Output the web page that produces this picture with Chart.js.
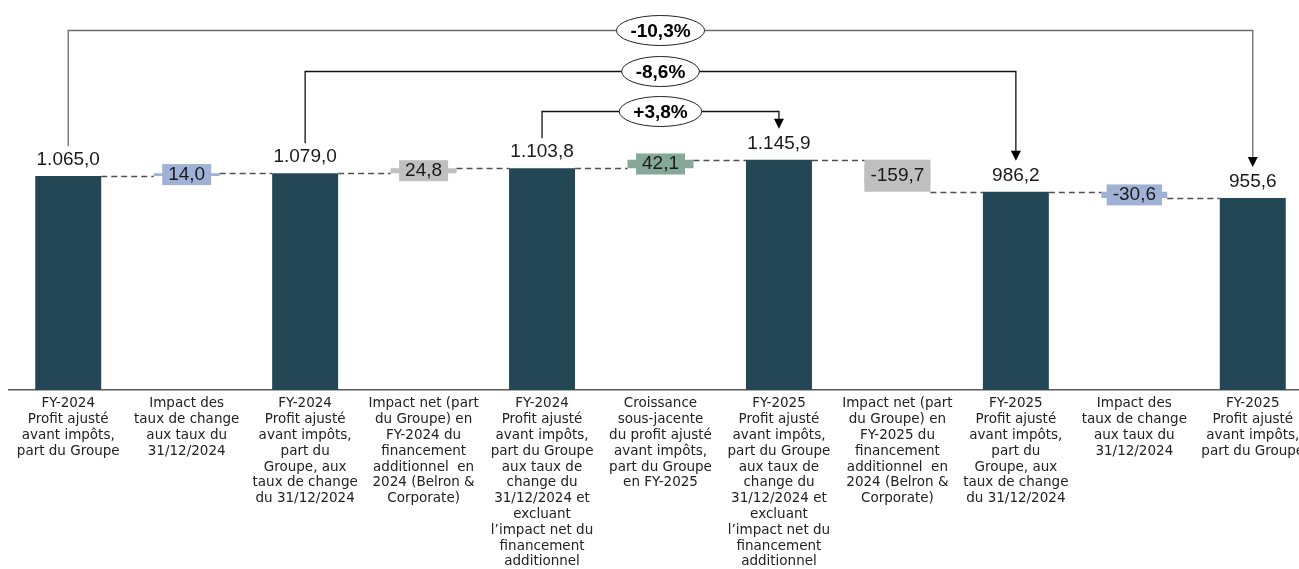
<!DOCTYPE html>
<html>
<head>
<meta charset="utf-8">
<script src="https://cdn.jsdelivr.net/npm/chart.js@4.4.1/dist/chart.umd.min.js"></script>
<style>
  html, body { margin:0; padding:0; background:#fff; overflow:hidden; }
  canvas { display:block; }
</style>
</head>
<body>
<canvas id="wfChart" width="1312" height="569"></canvas>
<script>
// ── Data ───────────────────────────────────────────
const categories = [
  ['FY-2024','Profit ajusté','avant impôts,','part du Groupe'],
  ['Impact des','taux de change','aux taux du','31/12/2024'],
  ['FY-2024','Profit ajusté','avant impôts,','part du','Groupe, aux','taux de change','du 31/12/2024'],
  ['Impact net (part','du Groupe) en','FY-2024 du','financement','additionnel  en','2024 (Belron &','Corporate)'],
  ['FY-2024','Profit ajusté','avant impôts,','part du Groupe','aux taux de','change du','31/12/2024 et','excluant','l’impact net du','financement','additionnel'],
  ['Croissance','sous-jacente','du profit ajusté','avant impôts,','part du Groupe','en FY-2025'],
  ['FY-2025','Profit ajusté','avant impôts,','part du Groupe','aux taux de','change du','31/12/2024 et','excluant','l’impact net du','financement','additionnel'],
  ['Impact net (part','du Groupe) en','FY-2025 du','financement','additionnel  en','2024 (Belron &','Corporate)'],
  ['FY-2025','Profit ajusté','avant impôts,','part du','Groupe, aux','taux de change','du 31/12/2024'],
  ['Impact des','taux de change','aux taux du','31/12/2024'],
  ['FY-2025','Profit ajusté','avant impôts,','part du Groupe']
];
const values  = [1065.0, 14.0, 1079.0, 24.8, 1103.8, 42.1, 1145.9, -159.7, 986.2, -30.6, 955.6];
const isTotal = [true, false, true, false, true, false, true, false, true, false, true];
const barColors = ['#244756','#9fb2d6','#244756','#bfbfbf','#244756','#85a899','#244756','#bfbfbf','#244756','#9fb2d6','#244756'];

const bracketFrom   = [0, 2, 4];
const bracketTo     = [10, 8, 6];
const bracketLabels = ['-10,3%', '-8,6%', '+3,8%'];
const bracketLevels = [1792, 1588, 1389];
const bracketColors = ['#6b6b6b', '#111111', '#111111'];

// floating bars: totals from 0, deltas from previous end
const ranges = [];
const ends = [];
(function(){
  let run = 0;
  values.forEach((v,i)=>{
    if(isTotal[i]){ ranges.push([0, v]); run = v; }
    else { ranges.push([run, run + v]); run = run + v; }
    ends.push(run);
  });
})();

function fmt(v){
  let [a,b] = Math.abs(v).toFixed(1).split('.');
  a = a.replace(/\B(?=(\d{3})+(?!\d))/g, '.');
  return (v < 0 ? '-' : '') + a + ',' + b;
}

const FONT = '"Liberation Sans", Arial, sans-serif';

// ── Waterfall decorations ──────────────────────────
const waterfallPlugin = {
  id:'waterfall',
  afterDatasetsDraw(chart){
    const ctx = chart.ctx;
    const meta = chart.getDatasetMeta(0);
    const y = chart.scales.y;
    ctx.save();

    // dashed connectors
    ctx.setLineDash([6,4]);
    ctx.strokeStyle = '#505050';
    ctx.lineWidth = 1.3;
    for(let i=0;i<meta.data.length-1;i++){
      const a = meta.data[i], b = meta.data[i+1];
      const yy = Math.round(y.getPixelForValue(ends[i])) + 0.5;
      ctx.beginPath();
      ctx.moveTo(a.x + a.width/2, yy);
      ctx.lineTo(b.x - b.width/2, yy);
      ctx.stroke();
    }
    ctx.setLineDash([]);

    // value labels
    ctx.font = '19px ' + FONT;
    ctx.textAlign = 'center';
    ctx.textBaseline = 'middle';
    meta.data.forEach((el,i)=>{
      const txt = fmt(values[i]);
      if(isTotal[i]){
        ctx.fillStyle = '#1a1a1a';
        ctx.fillText(txt, el.x, el.y - 16);
      } else {
        const mid = (el.y + el.base)/2;
        const w = ctx.measureText(txt).width + 12;
        ctx.fillStyle = barColors[i];
        ctx.fillRect(el.x - w/2, mid - 10.5, w, 21);
        ctx.fillStyle = '#1a1a1a';
        ctx.fillText(txt, el.x, mid);
      }
    });

    // growth brackets
    bracketLabels.forEach((label,k)=>{
      const a = meta.data[bracketFrom[k]], b = meta.data[bracketTo[k]];
      const yl = Math.round(y.getPixelForValue(bracketLevels[k])) + 0.5;
      const y1 = a.y - 30, y2 = b.y - 31;
      ctx.strokeStyle = bracketColors[k];
      ctx.lineWidth = 1.3;
      ctx.beginPath();
      ctx.moveTo(a.x, y1);
      ctx.lineTo(a.x, yl);
      ctx.lineTo(b.x, yl);
      ctx.lineTo(b.x, y2 - 9);
      ctx.stroke();
      ctx.fillStyle = '#000';
      ctx.beginPath();
      ctx.moveTo(b.x - 5, y2 - 10);
      ctx.lineTo(b.x + 5, y2 - 10);
      ctx.lineTo(b.x, y2);
      ctx.closePath();
      ctx.fill();

      ctx.font = 'bold 19px ' + FONT;
      const tw = ctx.measureText(label).width;
      const cx = (a.x + b.x)/2;
      ctx.beginPath();
      ctx.ellipse(cx, yl, tw/2 + 14, 15, 0, 0, Math.PI*2);
      ctx.fillStyle = '#fff';
      ctx.fill();
      ctx.strokeStyle = '#222';
      ctx.lineWidth = 1;
      ctx.stroke();
      ctx.fillStyle = '#000';
      ctx.fillText(label, cx, yl + 1);
    });
    ctx.restore();
  }
};

// ── Chart ──────────────────────────────────────────
new Chart(document.getElementById('wfChart'), {
  type:'bar',
  data:{
    labels: categories,
    datasets:[{
      data: ranges,
      backgroundColor: barColors,
      borderWidth: 0,
      barPercentage: 0.557,
      categoryPercentage: 1
    }]
  },
  options:{
    responsive:false,
    animation:false,
    layout:{ padding:{ left:9, right:0, top:0, bottom:0 } },
    plugins:{ legend:{display:false}, tooltip:{enabled:false} },
    scales:{
      x:{
        grid:{ display:false, drawTicks:false },
        border:{ display:true, color:'#595959', width:1.5 },
        ticks:{
          autoSkip:false, maxRotation:0, minRotation:0, padding:6,
          color:'#222',
          font:{ family:'"DejaVu Sans", sans-serif', size:13.5, lineHeight:1.17 }
        },
        afterFit: s => { s.height = 179; }
      },
      y:{ display:false, min:0, max:1941 }
    }
  },
  plugins:[waterfallPlugin]
});
</script>
</body>
</html>
